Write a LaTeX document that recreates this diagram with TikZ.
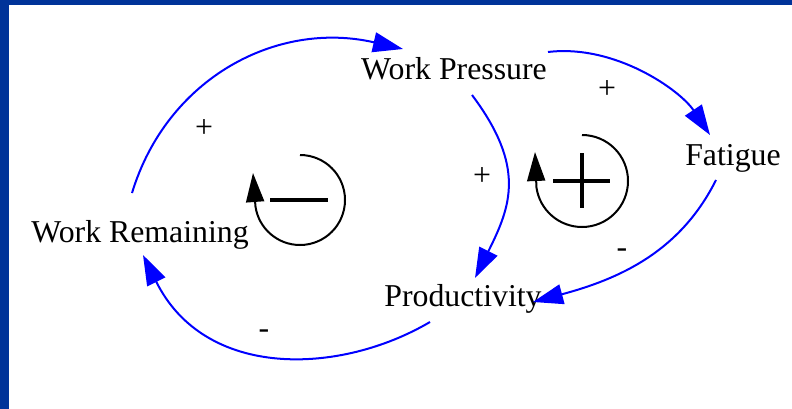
\documentclass[tikz,border=0pt]{standalone}
\usepackage{fontspec}
\setmainfont{Liberation Serif}
\usetikzlibrary{arrows.meta}
\definecolor{frameblue}{RGB}{0,51,153}
\definecolor{linkblue}{RGB}{0,0,255}
\tikzset{
  var/.style={anchor=base, inner sep=0pt, font=\fontsize{31.8}{38}\selectfont},
  sgn/.style={inner sep=0pt, font=\fontsize{31.8}{38}\selectfont},
  link/.style={draw=linkblue, line width=2pt, -{Triangle[length=30pt,width=20pt]}, fill=none},
  loopline/.style={draw=black, line width=2pt, -{Triangle[length=29pt,width=18pt]}},
  bar/.style={draw=black, line width=3.8pt}
}
\begin{document}
\begin{tikzpicture}[x=1pt,y=-1pt]
\useasboundingbox (0,0) rectangle (792,409);
\fill[white] (0,0) rectangle (792,409);
\fill[frameblue] (0,0) rectangle (9,409);
\fill[frameblue] (0,0) rectangle (792,5);

% variables
\node[var] (wp) at (454,80) {Work Pressure};
\node[var] (fat) at (733,165) {Fatigue};
\node[var] (wr) at (140,242) {Work Remaining};
\node[var] (prod) at (463,306) {Productivity};

% connector end points
\coordinate (wrTop) at (132,193);
\coordinate (wpIn) at (403,49);
\coordinate (wpOutA) at (472,95);
\coordinate (prodInA) at (475,278);
\coordinate (wpOutB) at (548,52);
\coordinate (fatIn) at (710,135);
\coordinate (fatOut) at (716,180);
\coordinate (prodInB) at (533,302);
\coordinate (prodOut) at (430,322);
\coordinate (wrIn) at (143,255);

% links
\draw[link] (wrTop) .. controls (167,78) and (277,20) .. (wpIn);
\draw[link] (wpOutA) .. controls (526,167) and (511,206) .. (prodInA);
\draw[link] (wpOutB) .. controls (615,44) and (680,90) .. (fatIn);
\draw[link] (fatOut) .. controls (680,252) and (619,279) .. (prodInB);
\draw[link] (prodOut) .. controls (340,375) and (205,380) .. (wrIn);

% polarity labels
\node[sgn] (s1) at (204,129) {+};
\node[sgn] (s2) at (482,177) {+};
\node[sgn] (s3) at (607,90) {+};
\node[sgn, anchor=base] (s4) at (622,257) {-};
\node[sgn, anchor=base] (s5) at (264,338) {-};

% balancing loop
\draw[loopline] (300,155) arc[start angle=-90, end angle=172, radius=45] -- (253,173);
\draw[bar] (270,200) -- (328,200);

% reinforcing loop
\draw[loopline] (582,135) arc[start angle=-90, end angle=172, radius=46] -- (535,152);
\draw[bar] (553,181) -- (610,181);
\draw[bar] (582,153) -- (582,208);
\end{tikzpicture}
\end{document}
